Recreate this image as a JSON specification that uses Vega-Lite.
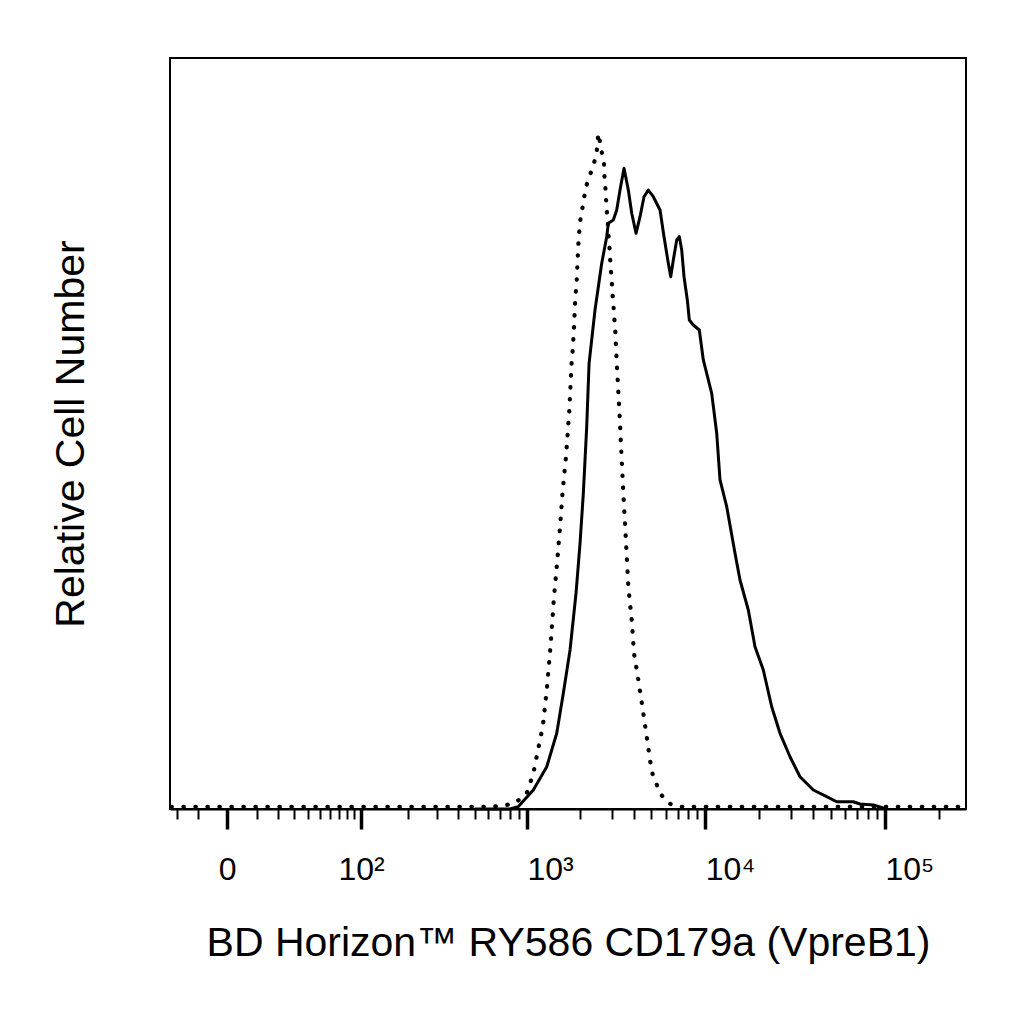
{
  "$schema": "https://vega.github.io/schema/vega-lite/v6.json",
  "description": "Flow cytometry histogram: CD179a (VpreB1) staining vs isotype control.",
  "autosize": {"type": "none"},
  "padding": {"left": 170, "top": 58, "right": 58, "bottom": 215},
  "width": 796,
  "height": 751,
  "background": "white",
  "data": {
    "values": [
      {"sample": "Isotype control", "intensity": -23, "count": 0.3},
      {"sample": "Isotype control", "intensity": 0, "count": 0.3},
      {"sample": "Isotype control", "intensity": 40, "count": 0.3},
      {"sample": "Isotype control", "intensity": 200, "count": 0.3},
      {"sample": "Isotype control", "intensity": 500, "count": 0.3},
      {"sample": "Isotype control", "intensity": 639, "count": 0.3},
      {"sample": "Isotype control", "intensity": 766, "count": 0.53},
      {"sample": "Isotype control", "intensity": 874, "count": 0.97},
      {"sample": "Isotype control", "intensity": 996, "count": 2.09},
      {"sample": "Isotype control", "intensity": 1086, "count": 4.75},
      {"sample": "Isotype control", "intensity": 1159, "count": 8.08},
      {"sample": "Isotype control", "intensity": 1228, "count": 10.96},
      {"sample": "Isotype control", "intensity": 1294, "count": 15.85},
      {"sample": "Isotype control", "intensity": 1363, "count": 22.06},
      {"sample": "Isotype control", "intensity": 1422, "count": 28.27},
      {"sample": "Isotype control", "intensity": 1485, "count": 33.16},
      {"sample": "Isotype control", "intensity": 1538, "count": 37.59},
      {"sample": "Isotype control", "intensity": 1593, "count": 42.48},
      {"sample": "Isotype control", "intensity": 1662, "count": 46.91},
      {"sample": "Isotype control", "intensity": 1735, "count": 53.13},
      {"sample": "Isotype control", "intensity": 1790, "count": 59.79},
      {"sample": "Isotype control", "intensity": 1813, "count": 61.12},
      {"sample": "Isotype control", "intensity": 1844, "count": 64.22},
      {"sample": "Isotype control", "intensity": 1868, "count": 67.34},
      {"sample": "Isotype control", "intensity": 1909, "count": 70.44},
      {"sample": "Isotype control", "intensity": 1949, "count": 75.1},
      {"sample": "Isotype control", "intensity": 1993, "count": 78.2},
      {"sample": "Isotype control", "intensity": 2099, "count": 81.32},
      {"sample": "Isotype control", "intensity": 2154, "count": 82.86},
      {"sample": "Isotype control", "intensity": 2268, "count": 84.42},
      {"sample": "Isotype control", "intensity": 2388, "count": 85.98},
      {"sample": "Isotype control", "intensity": 2473, "count": 87.52},
      {"sample": "Isotype control", "intensity": 2525, "count": 89.97},
      {"sample": "Isotype control", "intensity": 2638, "count": 87.52},
      {"sample": "Isotype control", "intensity": 2718, "count": 85.98},
      {"sample": "Isotype control", "intensity": 2730, "count": 84.42},
      {"sample": "Isotype control", "intensity": 2764, "count": 82.86},
      {"sample": "Isotype control", "intensity": 2789, "count": 81.32},
      {"sample": "Isotype control", "intensity": 2814, "count": 79.76},
      {"sample": "Isotype control", "intensity": 2851, "count": 78.2},
      {"sample": "Isotype control", "intensity": 2873, "count": 76.66},
      {"sample": "Isotype control", "intensity": 2910, "count": 75.1},
      {"sample": "Isotype control", "intensity": 2937, "count": 73.54},
      {"sample": "Isotype control", "intensity": 2963, "count": 72.0},
      {"sample": "Isotype control", "intensity": 3002, "count": 70.44},
      {"sample": "Isotype control", "intensity": 3025, "count": 68.88},
      {"sample": "Isotype control", "intensity": 3064, "count": 67.34},
      {"sample": "Isotype control", "intensity": 3092, "count": 65.78},
      {"sample": "Isotype control", "intensity": 3132, "count": 64.22},
      {"sample": "Isotype control", "intensity": 3160, "count": 62.45},
      {"sample": "Isotype control", "intensity": 3201, "count": 59.56},
      {"sample": "Isotype control", "intensity": 3311, "count": 53.13},
      {"sample": "Isotype control", "intensity": 3415, "count": 46.47},
      {"sample": "Isotype control", "intensity": 3486, "count": 42.04},
      {"sample": "Isotype control", "intensity": 3595, "count": 36.26},
      {"sample": "Isotype control", "intensity": 3718, "count": 29.6},
      {"sample": "Isotype control", "intensity": 3884, "count": 25.17},
      {"sample": "Isotype control", "intensity": 4001, "count": 20.73},
      {"sample": "Isotype control", "intensity": 4229, "count": 17.18},
      {"sample": "Isotype control", "intensity": 4418, "count": 14.21},
      {"sample": "Isotype control", "intensity": 4711, "count": 9.63},
      {"sample": "Isotype control", "intensity": 5024, "count": 4.97},
      {"sample": "Isotype control", "intensity": 5590, "count": 2.09},
      {"sample": "Isotype control", "intensity": 6219, "count": 0.76},
      {"sample": "Isotype control", "intensity": 7228, "count": 0.3},
      {"sample": "Isotype control", "intensity": 20000, "count": 0.3},
      {"sample": "Isotype control", "intensity": 100000, "count": 0.3},
      {"sample": "Isotype control", "intensity": 282000, "count": 0.3},
      {"sample": "CD179a", "intensity": 500, "count": 0},
      {"sample": "CD179a", "intensity": 800, "count": 0},
      {"sample": "CD179a", "intensity": 890, "count": 0.3},
      {"sample": "CD179a", "intensity": 1086, "count": 2.53},
      {"sample": "CD179a", "intensity": 1294, "count": 5.63},
      {"sample": "CD179a", "intensity": 1473, "count": 10.08},
      {"sample": "CD179a", "intensity": 1605, "count": 15.41},
      {"sample": "CD179a", "intensity": 1751, "count": 21.17},
      {"sample": "CD179a", "intensity": 1892, "count": 28.72},
      {"sample": "CD179a", "intensity": 1993, "count": 35.38},
      {"sample": "CD179a", "intensity": 2080, "count": 42.04},
      {"sample": "CD179a", "intensity": 2173, "count": 50.91},
      {"sample": "CD179a", "intensity": 2240, "count": 59.3},
      {"sample": "CD179a", "intensity": 2419, "count": 66.44},
      {"sample": "CD179a", "intensity": 2638, "count": 72.66},
      {"sample": "CD179a", "intensity": 2814, "count": 76.21},
      {"sample": "CD179a", "intensity": 2873, "count": 77.99},
      {"sample": "CD179a", "intensity": 3064, "count": 78.43},
      {"sample": "CD179a", "intensity": 3201, "count": 79.76},
      {"sample": "CD179a", "intensity": 3340, "count": 82.42},
      {"sample": "CD179a", "intensity": 3517, "count": 85.31},
      {"sample": "CD179a", "intensity": 3718, "count": 82.42},
      {"sample": "CD179a", "intensity": 3884, "count": 79.32},
      {"sample": "CD179a", "intensity": 4105, "count": 76.66},
      {"sample": "CD179a", "intensity": 4322, "count": 78.87},
      {"sample": "CD179a", "intensity": 4550, "count": 81.53},
      {"sample": "CD179a", "intensity": 4809, "count": 82.42},
      {"sample": "CD179a", "intensity": 5128, "count": 81.53},
      {"sample": "CD179a", "intensity": 5590, "count": 79.76},
      {"sample": "CD179a", "intensity": 5885, "count": 76.21},
      {"sample": "CD179a", "intensity": 6219, "count": 72.66},
      {"sample": "CD179a", "intensity": 6414, "count": 70.88},
      {"sample": "CD179a", "intensity": 6632, "count": 73.1},
      {"sample": "CD179a", "intensity": 6927, "count": 75.77},
      {"sample": "CD179a", "intensity": 7163, "count": 76.21},
      {"sample": "CD179a", "intensity": 7388, "count": 74.43},
      {"sample": "CD179a", "intensity": 7609, "count": 70.88},
      {"sample": "CD179a", "intensity": 7938, "count": 67.78},
      {"sample": "CD179a", "intensity": 8145, "count": 65.11},
      {"sample": "CD179a", "intensity": 8574, "count": 64.45},
      {"sample": "CD179a", "intensity": 9260, "count": 63.78},
      {"sample": "CD179a", "intensity": 9748, "count": 59.79},
      {"sample": "CD179a", "intensity": 10857, "count": 55.35},
      {"sample": "CD179a", "intensity": 11576, "count": 50.03},
      {"sample": "CD179a", "intensity": 12078, "count": 43.81},
      {"sample": "CD179a", "intensity": 13161, "count": 40.25},
      {"sample": "CD179a", "intensity": 14640, "count": 34.05},
      {"sample": "CD179a", "intensity": 15608, "count": 30.49},
      {"sample": "CD179a", "intensity": 17362, "count": 26.5},
      {"sample": "CD179a", "intensity": 18918, "count": 21.61},
      {"sample": "CD179a", "intensity": 21043, "count": 18.51},
      {"sample": "CD179a", "intensity": 23433, "count": 13.62},
      {"sample": "CD179a", "intensity": 26063, "count": 10.08},
      {"sample": "CD179a", "intensity": 29626, "count": 6.96},
      {"sample": "CD179a", "intensity": 33678, "count": 4.3},
      {"sample": "CD179a", "intensity": 39932, "count": 2.53},
      {"sample": "CD179a", "intensity": 47414, "count": 1.64},
      {"sample": "CD179a", "intensity": 53891, "count": 0.97},
      {"sample": "CD179a", "intensity": 66654, "count": 0.97},
      {"sample": "CD179a", "intensity": 72629, "count": 0.67},
      {"sample": "CD179a", "intensity": 86119, "count": 0.53},
      {"sample": "CD179a", "intensity": 102245, "count": 0}
    ]
  },
  "encoding": {
    "x": {
      "field": "intensity",
      "type": "quantitative",
      "title": "BD Horizon™ RY586 CD179a (VpreB1)",
      "scale": {"type": "symlog", "constant": 22, "domain": [-23.8, 282300], "nice": false, "zero": false},
      "axis": {
        "values": [-20, -10, 0, 10, 20, 30, 40, 50, 60, 70, 80, 90, 100, 200, 300, 400, 500, 600, 700, 800, 900, 1000, 2000, 3000, 4000, 5000, 6000, 7000, 8000, 9000, 10000, 20000, 30000, 40000, 50000, 60000, 70000, 80000, 90000, 100000, 200000],
        "labelExpr": "datum.value === 0 ? '0' : datum.value === 100 ? '10²' : datum.value === 1000 ? '10³' : datum.value === 10000 ? '10⁴' : datum.value === 100000 ? '10⁵' : ''",
        "labelOverlap": false,
        "labelFlush": false,
        "labelFont": "Liberation Sans",
        "labelFontSize": 32,
        "labelColor": "black",
        "labelBaseline": "alphabetic",
        "labelPadding": 50,
        "labelAlign": {"condition": {"test": "datum.value === 0 || datum.value === 100", "value": "center"}, "value": "left"},
        "tickColor": "black",
        "tickSize": {"condition": {"test": "datum.value === 0 || datum.value === 100 || datum.value === 1000 || datum.value === 10000 || datum.value === 100000", "value": 20}, "value": 10},
        "tickWidth": {"condition": {"test": "datum.value === 0 || datum.value === 100 || datum.value === 1000 || datum.value === 10000 || datum.value === 100000", "value": 3.5}, "value": 2},
        "domainColor": "black",
        "domainWidth": 2,
        "grid": false,
        "titleFont": "Liberation Sans",
        "titleFontSize": 41,
        "titleFontWeight": "normal",
        "titleColor": "black",
        "titlePadding": 38
      }
    },
    "y": {
      "field": "count",
      "type": "quantitative",
      "title": "Relative Cell Number",
      "scale": {"domain": [0, 100], "nice": false},
      "axis": {
        "domain": false,
        "ticks": false,
        "labels": false,
        "grid": false,
        "titleFont": "Liberation Sans",
        "titleFontSize": 41,
        "titleFontWeight": "normal",
        "titleColor": "black",
        "titlePadding": 78
      }
    }
  },
  "layer": [
    {
      "transform": [{"filter": "datum.sample === 'Isotype control'"}],
      "mark": {"type": "line", "color": "black", "strokeWidth": 4.2, "strokeCap": "round", "strokeDash": [0.5, 11.5]}
    },
    {
      "transform": [{"filter": "datum.sample === 'CD179a'"}],
      "mark": {"type": "line", "color": "black", "strokeWidth": 3, "strokeJoin": "round"}
    }
  ],
  "config": {
    "view": {"stroke": "black", "strokeWidth": 2}
  }
}
